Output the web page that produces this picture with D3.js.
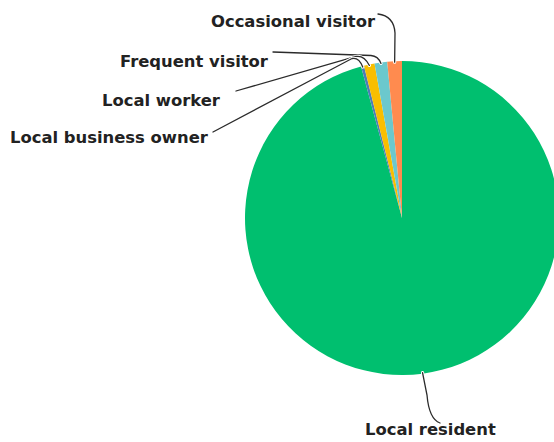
<!DOCTYPE html>
<html>
<head>
<meta charset="utf-8">
<script src="https://cdn.jsdelivr.net/npm/d3@7"></script>
<style>
  html, body { margin: 0; padding: 0; background: #fff; }
  svg { display: block; }
  .lbl { font-family: "DejaVu Sans", sans-serif; font-weight: 700; font-size: 16.4px; fill: #222; }
</style>
</head>
<body>
<svg id="chart" width="554" height="442"></svg>
<script>
// ---- data ----
const categories = ["Local resident", "Local business owner", "Local worker", "Frequent visitor", "Occasional visitor"];
const values = [95.8, 0.3, 1.1, 1.3, 1.5];
const colors = ["#00bf6f", "#507cb6", "#f9be00", "#6bc8cd", "#ff8b4f"];

// ---- layout ----
const W = 554, H = 442;
const cx = 402, cy = 218, R = 157;

// label placement (text anchor, baseline) and leader routing (start, knee, control)
const layout = {
  "Occasional visitor":   { tx: 211, ty: 27,  a: [378, 14], k: [395, 33], c: [394, 16], mode: "curveThenDown" },
  "Frequent visitor":     { tx: 120, ty: 67,  a: [273, 52], k: [371, 55.5], c: [378, 56], mode: "lineThenCurve" },
  "Local worker":         { tx: 102, ty: 106, a: [236, 91], k: [356, 56.5], c: [364, 55], mode: "lineThenCurve" },
  "Local business owner": { tx: 10,  ty: 143, a: [213, 132], k: [352, 58.5], c: [359, 57], mode: "lineThenCurve" },
  "Local resident":       { tx: 365, ty: 435, a: null, k: [427, 395], c: [429, 419], end: [440, 423], mode: "down" }
};

const svg = d3.select("#chart");
const g = svg.append("g").attr("transform", `translate(${cx},${cy})`);

const pie = d3.pie().sort(null).value(d => d.value);
const arcs = pie(categories.map((c, i) => ({ name: c, value: values[i], color: colors[i] })));
const arc = d3.arc().innerRadius(0).outerRadius(R);

g.selectAll("path.slice")
  .data(arcs)
  .enter().append("path")
  .attr("class", "slice")
  .attr("d", arc)
  .attr("fill", d => d.data.color);

// leader lines
function edgePoint(d, rad) {
  const a = (d.startAngle + d.endAngle) / 2;
  return [cx + rad * Math.sin(a), cy - rad * Math.cos(a)];
}
function leaderPath(d) {
  const L = layout[d.data.name];
  const p = d3.path();
  const E = edgePoint(d, R - 1);
  if (L.mode === "curveThenDown") {
    p.moveTo(L.a[0], L.a[1]);
    p.quadraticCurveTo(L.c[0], L.c[1], L.k[0], L.k[1]);
    p.lineTo(E[0], E[1]);
  } else if (L.mode === "lineThenCurve") {
    p.moveTo(L.a[0], L.a[1]);
    p.lineTo(L.k[0], L.k[1]);
    p.quadraticCurveTo(L.c[0], L.c[1], E[0], E[1]);
  } else {
    p.moveTo(E[0], E[1]);
    p.lineTo(L.k[0], L.k[1]);
    p.quadraticCurveTo(L.c[0], L.c[1], L.end[0], L.end[1]);
  }
  return p.toString();
}

const leaders = svg.append("g");
const order = arcs.slice().reverse();
order.forEach(d => {
  leaders.append("path").attr("d", leaderPath(d))
    .attr("fill", "none").attr("stroke", "#fff").attr("stroke-width", 3.2).attr("stroke-linecap", "round");
  leaders.append("path").attr("d", leaderPath(d))
    .attr("fill", "none").attr("stroke", "#2b2b2b").attr("stroke-width", 1.3).attr("stroke-linecap", "round");
});

// labels
svg.append("g").selectAll("text")
  .data(arcs)
  .enter().append("text")
  .attr("class", "lbl")
  .attr("x", d => layout[d.data.name].tx)
  .attr("y", d => layout[d.data.name].ty)
  .text(d => d.data.name);
</script>
</body>
</html>
